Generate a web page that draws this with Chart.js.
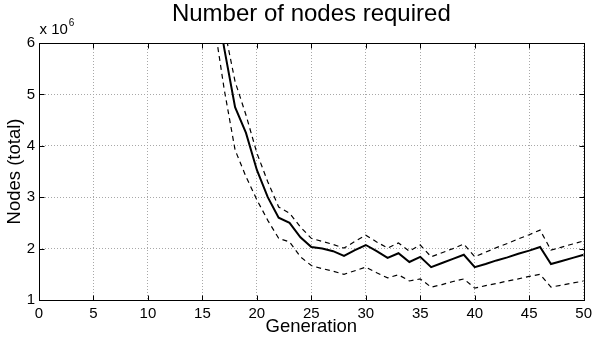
<!DOCTYPE html>
<html lang="en">
<head>
  <meta charset="UTF-8">
  <title>Number of nodes required</title>
  <script src="https://cdn.jsdelivr.net/npm/chart.js"></script>
  <style>
    html, body { margin: 0; padding: 0; background: #fff; }
    #wrap { width: 597px; height: 339px; }
  </style>
</head>
<body>
  <div id="wrap"><canvas id="grafikNodes" width="597" height="339"></canvas></div>
  <script>
    // data (nodes in millions, axis shows x 10^6)
    const generasi = [15, 16, 17, 18, 19, 20, 21, 22, 23, 24, 25, 26, 27, 28, 29, 30, 31, 32,
                      33, 34, 35, 36, 37, 38, 39, 40, 41, 42, 43, 44, 45, 46, 47, 48, 49, 50];
    const nodesMean = [8.8, 7.2, 5.9, 4.75, 4.25, 3.53, 3.0, 2.6, 2.5, 2.22, 2.03, 2.0, 1.95, 1.86, 1.97, 2.07, 1.95, 1.82,
                       1.91, 1.74, 1.84, 1.64, 1.72, 1.80, 1.88, 1.64, 1.70, 1.77, 1.83, 1.90, 1.96, 2.03, 1.70, 1.76, 1.82, 1.88];
    const nodesUpper = [9.5, 7.6, 6.3, 5.25, 4.6, 3.86, 3.3, 2.81, 2.69, 2.42, 2.2, 2.14, 2.08, 2.01, 2.14, 2.26, 2.13, 2.01,
                        2.11, 1.95, 2.07, 1.84, 1.92, 2.0, 2.09, 1.84, 1.93, 2.02, 2.1, 2.19, 2.27, 2.36, 1.97, 2.03, 2.09, 2.15];
    const nodesLower = [8.0, 6.5, 5.1, 3.92, 3.4, 2.95, 2.55, 2.2, 2.13, 1.84, 1.67, 1.61, 1.56, 1.5, 1.57, 1.64, 1.53, 1.43,
                        1.49, 1.37, 1.41, 1.25, 1.30, 1.36, 1.41, 1.23, 1.28, 1.32, 1.37, 1.41, 1.46, 1.5, 1.25, 1.29, 1.33, 1.37];
    const xTicks = [0, 5, 10, 15, 20, 25, 30, 35, 40, 45, 50];
    const yTicks = [1, 2, 3, 4, 5, 6];

    const titik = arr => generasi.map((g, i) => ({ x: g, y: arr[i] }));

    Chart.defaults.font.family = '"Liberation Sans", Arial, sans-serif';
    Chart.defaults.color = '#000';

    // box around the axes, inward ticks, and the "x 10^6" exponent
    const kotak = {
      id: 'kotak',
      afterDraw(chart) {
        const { ctx, chartArea: a, scales: { x, y } } = chart;
        ctx.save();
        ctx.strokeStyle = '#000';
        ctx.lineWidth = 1;
        const L = Math.round(a.left) + 0.5, R = Math.round(a.right) + 0.5;
        const T = Math.round(a.top) + 0.5, B = Math.round(a.bottom) + 0.5;
        ctx.strokeRect(L, T, R - L, B - T);
        ctx.beginPath();
        xTicks.forEach(v => {
          const px = Math.round(x.getPixelForValue(v)) + 0.5;
          ctx.moveTo(px, B); ctx.lineTo(px, B - 5);
          ctx.moveTo(px, T); ctx.lineTo(px, T + 5);
        });
        yTicks.forEach(v => {
          const py = Math.round(y.getPixelForValue(v)) + 0.5;
          ctx.moveTo(L, py); ctx.lineTo(L + 5, py);
          ctx.moveTo(R, py); ctx.lineTo(R - 5, py);
        });
        ctx.stroke();
        ctx.fillStyle = '#000';
        ctx.textBaseline = 'alphabetic';
        ctx.font = '15px "Liberation Sans", Arial, sans-serif';
        ctx.fillText('x 10', L, T - 10);
        const w = ctx.measureText('x 10').width;
        ctx.font = '10px "Liberation Sans", Arial, sans-serif';
        ctx.fillText('6', L + w + 1, T - 18);
        ctx.restore();
      }
    };

    const ctx = document.getElementById('grafikNodes').getContext('2d');
    new Chart(ctx, {
      type: 'line',
      data: {
        datasets: [
          { label: 'mean', data: titik(nodesMean), borderColor: '#000', borderWidth: 2, pointRadius: 0, fill: false },
          { label: 'upper', data: titik(nodesUpper), borderColor: '#000', borderWidth: 1.2, borderDash: [5, 4], pointRadius: 0, fill: false },
          { label: 'lower', data: titik(nodesLower), borderColor: '#000', borderWidth: 1.2, borderDash: [5, 4], pointRadius: 0, fill: false }
        ]
      },
      options: {
        responsive: false,
        animation: false,
        devicePixelRatio: 1,
        layout: { padding: { left: 0, right: 9, top: 0, bottom: 0 } },
        plugins: {
          legend: { display: false },
          tooltip: { enabled: false },
          title: {
            display: true,
            text: 'Number of nodes required',
            fullSize: false,
            font: { size: 24, weight: 'normal' },
            color: '#000',
            padding: { top: 0, bottom: 14.2 }
          }
        },
        scales: {
          x: {
            type: 'linear',
            min: 0, max: 50,
            afterBuildTicks: s => { s.ticks = xTicks.map(v => ({ value: v })); },
            afterFit: s => { s.height = 39; },
            grid: { color: '#a8a8a8', lineWidth: 1, drawTicks: false },
            border: { display: false, dash: [1, 2] },
            ticks: { font: { size: 15 }, padding: 5, maxRotation: 0, color: '#000' },
            title: { display: true, text: 'Generation', font: { size: 18.5 }, padding: { top: 0, bottom: 1 }, color: '#000' }
          },
          y: {
            min: 1, max: 6,
            afterBuildTicks: s => { s.ticks = yTicks.map(v => ({ value: v })); },
            afterFit: s => { s.width = 39; },
            grid: { color: '#a8a8a8', lineWidth: 1, drawTicks: false },
            border: { display: false, dash: [1, 2] },
            ticks: { font: { size: 15 }, padding: 4, color: '#000' },
            title: { display: true, text: 'Nodes (total)', font: { size: 18.5 }, padding: { top: 4, bottom: 0 }, color: '#000' }
          }
        }
      },
      plugins: [kotak]
    });
  </script>
</body>
</html>
